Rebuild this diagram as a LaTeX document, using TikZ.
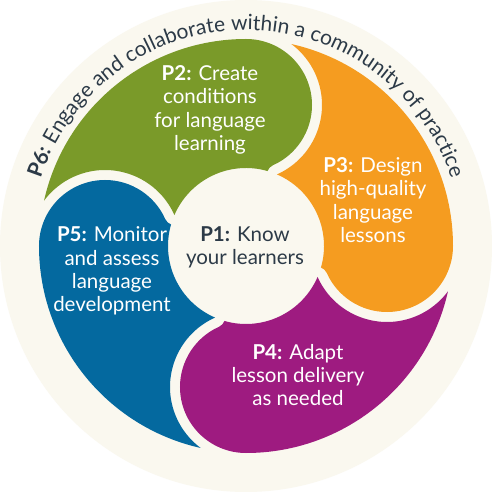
\documentclass[tikz,border=0pt]{standalone}
\usepackage{fontspec}
\setmainfont{Lato}
\usetikzlibrary{decorations.text}
\definecolor{pcream}{HTML}{FAF8EF}
\definecolor{pgreen}{HTML}{7A9A29}
\definecolor{porange}{HTML}{F59C20}
\definecolor{ppurple}{HTML}{9E1B80}
\definecolor{pblue}{HTML}{04699F}
\definecolor{ptext}{HTML}{2C3A47}

\begin{document}
\begin{tikzpicture}[x=1pt,y=1pt]
    \tikzstyle{petaltext}=[text=white,align=center,font=\fontsize{20.5}{23.3}\selectfont]
    \tikzstyle{centertext}=[petaltext,text=ptext]
    \useasboundingbox (-246,-246) rectangle (246,246);
    \fill[white] (-246,-246) rectangle (246,246);
    \fill[pcream] (0,0) circle (246);
    \foreach \col [count=\i from 0] in {pgreen,porange,ppurple,pblue}
      \fill[\col,rotate=-90*\i] (167.34:207)
        arc[start angle=167.34,end angle=90,radius=207]
        arc[start angle=90,end angle=-65.96,radius=66]
        arc[start angle=114.04,end angle=160.32,radius=10]
        arc[start angle=73.97,end angle=156.62,radius=78]
        arc[start angle=24.04,end angle=143.34,radius=76] -- cycle;
    \path[decorate,decoration={text along path,text align=center,text color=ptext,
      text={|\fontsize{21}{24}\selectfont\bfseries|P6:|\fontsize{21}{24}\selectfont| Engage and collaborate within a community of practice}}]
      (180:216) arc[start angle=180,end angle=0,radius=216];
    \node[centertext] (p1) at (-1,-1) {\textbf{P1:} Know\\your learners};
    \node[petaltext] (p2) at (-36,136) {\textbf{P2:} Create\\conditions\\for language\\learning};
    \node[petaltext] (p3) at (127,46) {\textbf{P3:} Design\\high-quality\\language\\lessons};
    \node[petaltext] (p4) at (52,-129) {\textbf{P4:} Adapt\\lesson delivery\\as needed};
    \node[petaltext] (p5) at (-134,-25) {\textbf{P5:} Monitor\\and assess\\language\\development};
\end{tikzpicture}
\end{document}
